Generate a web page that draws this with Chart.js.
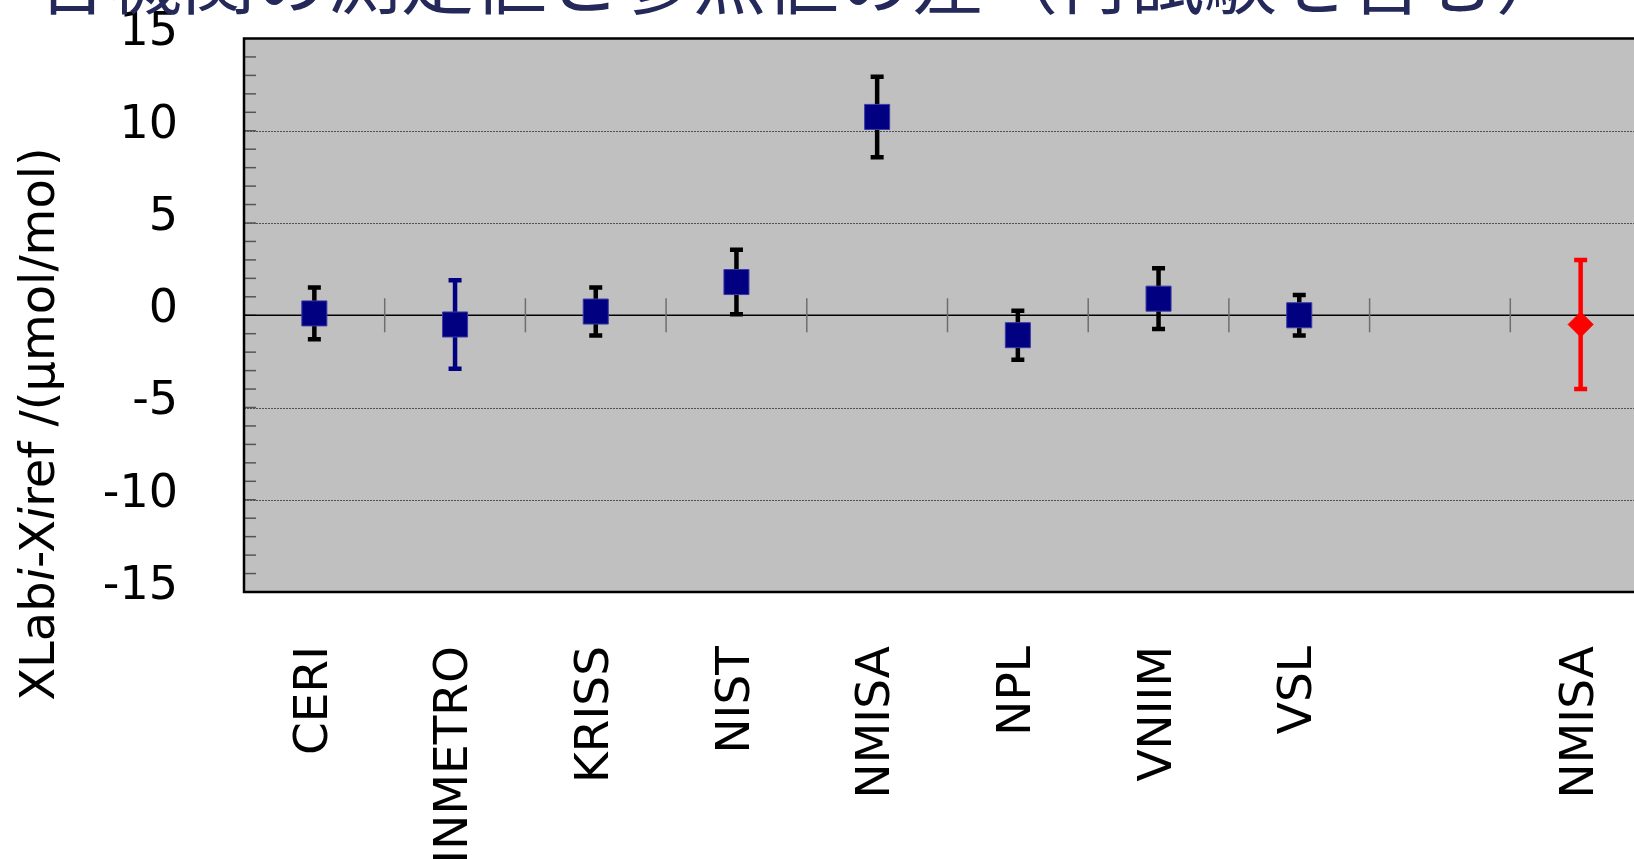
<!DOCTYPE html>
<html>
<head>
<meta charset="utf-8">
<script src="https://cdn.jsdelivr.net/npm/chart.js@4.4.0/dist/chart.umd.min.js"></script>
<style>
html, body { margin: 0; padding: 0; background: #ffffff; overflow: hidden; }
#wrap { position: relative; width: 1634px; height: 859px; overflow: hidden; }
#chart { position: absolute; left: 0; top: 0; }
</style>
</head>
<body>
<div id="wrap"><canvas id="chart" width="1670" height="859"></canvas></div>
<script>
// categories (9th slot is an empty gap before the re-test result)
var labels = ["CERI", "INMETRO", "KRISS", "NIST", "NMISA", "NPL", "VNIIM", "VSL", "", "NMISA"];

// difference from reference value, umol/mol
var labValues = [0.1, -0.5, 0.2, 1.8, 10.75, -1.08, 0.9, 0.0, null, null];
var labUncert = [1.4, 2.4, 1.3, 1.75, 2.18, 1.33, 1.65, 1.1, null, null];
var labBarColors = ["#000000", "#000080", "#000000", "#000000", "#000000", "#000000", "#000000", "#000000", null, null];

// re-test
var retestValues = [null, null, null, null, null, null, null, null, null, -0.5];
var retestUncert = [null, null, null, null, null, null, null, null, null, 3.5];
var retestBarColors = [null, null, null, null, null, null, null, null, null, "#ff0000"];

var yMin = -15, yMax = 15, yStep = 5, yMinorStep = 1;

var titleText = "各機関の測定値と参照値の差（再試験を含む）";
var yTitleParts = [["XLab", false], ["i", true], ["-X", false], ["i", true], ["ref /(μmol/mol)", false]];

function drawErrorBars (ctx, chart, values, uncert, colors) {
    let xs = chart.scales.x;
    let ys = chart.scales.y;
    ctx.save();
    ctx.lineWidth = 4.5;
    ctx.lineCap = "butt";
    for (let i = 0; i < values.length; i++) {
        if (values[i] == null) continue;
        let px = xs.getPixelForValue(i);
        let top = ys.getPixelForValue(values[i] + uncert[i]);
        let bot = ys.getPixelForValue(values[i] - uncert[i]);
        ctx.strokeStyle = colors[i];
        ctx.beginPath();
        ctx.moveTo(px, top);
        ctx.lineTo(px, bot);
        ctx.moveTo(px - 6.5, top);
        ctx.lineTo(px + 6.5, top);
        ctx.moveTo(px - 6.5, bot);
        ctx.lineTo(px + 6.5, bot);
        ctx.stroke();
    }
    ctx.restore();
}

var decorPlugin = {
    id: "decor",
    beforeDraw: function (chart) {
        let ctx = chart.ctx;
        let a = chart.chartArea;
        ctx.save();
        ctx.fillStyle = "#c0c0c0";
        ctx.fillRect(a.left, a.top, a.right - a.left, a.bottom - a.top);
        ctx.restore();
    },
    beforeDatasetsDraw: function (chart) {
        let ctx = chart.ctx;
        let a = chart.chartArea;
        let xs = chart.scales.x;
        let ys = chart.scales.y;
        ctx.save();

        // dotted grid lines at major ticks
        ctx.strokeStyle = "#505050";
        ctx.lineWidth = 1;
        ctx.setLineDash([2, 1]);
        for (let v = yMin + yStep; v < yMax; v += yStep) {
            if (v == 0) continue;
            let py = Math.round(ys.getPixelForValue(v)) + 0.5;
            ctx.beginPath();
            ctx.moveTo(a.left, py);
            ctx.lineTo(a.right, py);
            ctx.stroke();
        }
        ctx.setLineDash([]);

        // minor ticks inside the left edge
        ctx.strokeStyle = "#555555";
        ctx.lineWidth = 1.5;
        for (let v = yMin + yMinorStep; v < yMax; v += yMinorStep) {
            let py = ys.getPixelForValue(v);
            ctx.beginPath();
            ctx.moveTo(a.left, py);
            ctx.lineTo(a.left + 12, py);
            ctx.stroke();
        }

        // zero line
        let y0 = ys.getPixelForValue(0);
        ctx.strokeStyle = "#000000";
        ctx.lineWidth = 1.5;
        ctx.beginPath();
        ctx.moveTo(a.left, y0);
        ctx.lineTo(a.right, y0);
        ctx.stroke();

        // category separators crossing the zero line
        ctx.strokeStyle = "#6e6e6e";
        ctx.lineWidth = 1.5;
        for (let i = 1; i < labels.length; i++) {
            let px = (xs.getPixelForValue(i - 1) + xs.getPixelForValue(i)) / 2;
            ctx.beginPath();
            ctx.moveTo(px, y0 - 17);
            ctx.lineTo(px, y0 + 17);
            ctx.stroke();
        }

        // plot border
        ctx.strokeStyle = "#000000";
        ctx.lineWidth = 2.5;
        ctx.strokeRect(a.left, a.top, a.right - a.left, a.bottom - a.top);

        ctx.restore();

        drawErrorBars(ctx, chart, labValues, labUncert, labBarColors);
        drawErrorBars(ctx, chart, retestValues, retestUncert, retestBarColors);
    },
    afterDraw: function (chart) {
        let ctx = chart.ctx;
        ctx.save();

        // title (partly cut off at the top, as in the source slide)
        ctx.fillStyle = "#25295a";
        ctx.font = "73px 'Noto Sans CJK JP'";
        ctx.textAlign = "left";
        ctx.textBaseline = "alphabetic";
        ctx.fillText(titleText, 36, 8);

        // y axis title with italic subscripts
        let normal = "48px 'DejaVu Sans'";
        let italic = "italic 48px 'DejaVu Sans'";
        let total = 0;
        yTitleParts.forEach(function (p) {
            ctx.font = p[1] ? italic : normal;
            total += ctx.measureText(p[0]).width;
        });
        ctx.translate(42, 424);
        ctx.rotate(-Math.PI / 2);
        ctx.fillStyle = "#000000";
        ctx.textBaseline = "middle";
        let x = -total / 2;
        yTitleParts.forEach(function (p) {
            ctx.font = p[1] ? italic : normal;
            ctx.fillText(p[0], x, 0);
            x += ctx.measureText(p[0]).width;
        });
        ctx.restore();
    }
};

var chart = new Chart(document.getElementById("chart"), {
    type: "line",
    data: {
        labels: labels,
        datasets: [
            {
                label: "Lab",
                data: labValues,
                showLine: false,
                pointStyle: "rect",
                pointRadius: 17.7,
                pointBackgroundColor: "#000080",
                pointBorderColor: "#3a3aa6",
                pointBorderWidth: 1
            },
            {
                label: "Re-test",
                data: retestValues,
                showLine: false,
                pointStyle: "rectRot",
                pointRadius: 12.5,
                pointBackgroundColor: "#ff0000",
                pointBorderColor: "#ff0000",
                pointBorderWidth: 1
            }
        ]
    },
    options: {
        responsive: false,
        animation: false,
        layout: {
            padding: { left: 0, top: 38.5, right: 19, bottom: 0 }
        },
        plugins: {
            legend: { display: false },
            tooltip: { enabled: false },
            title: { display: false }
        },
        scales: {
            x: {
                type: "category",
                offset: true,
                grid: { display: false, drawTicks: false },
                border: { display: false },
                ticks: {
                    autoSkip: false,
                    minRotation: 90,
                    maxRotation: 90,
                    padding: 54,
                    color: "#000000",
                    font: { family: "'DejaVu Sans'", size: 47 }
                },
                afterFit: function (scale) {
                    scale.height = 859 - 592;
                    scale.paddingLeft = 0;
                    scale.paddingRight = 0;
                }
            },
            y: {
                min: yMin,
                max: yMax,
                grid: { display: false, drawTicks: false },
                border: { display: false },
                ticks: {
                    stepSize: yStep,
                    padding: 66,
                    labelOffset: -5,
                    color: "#000000",
                    font: { family: "'DejaVu Sans'", size: 46 }
                },
                afterFit: function (scale) {
                    scale.width = 244;
                    scale.paddingTop = 0;
                    scale.paddingBottom = 0;
                }
            }
        }
    },
    plugins: [decorPlugin]
});
</script>
</body>
</html>
